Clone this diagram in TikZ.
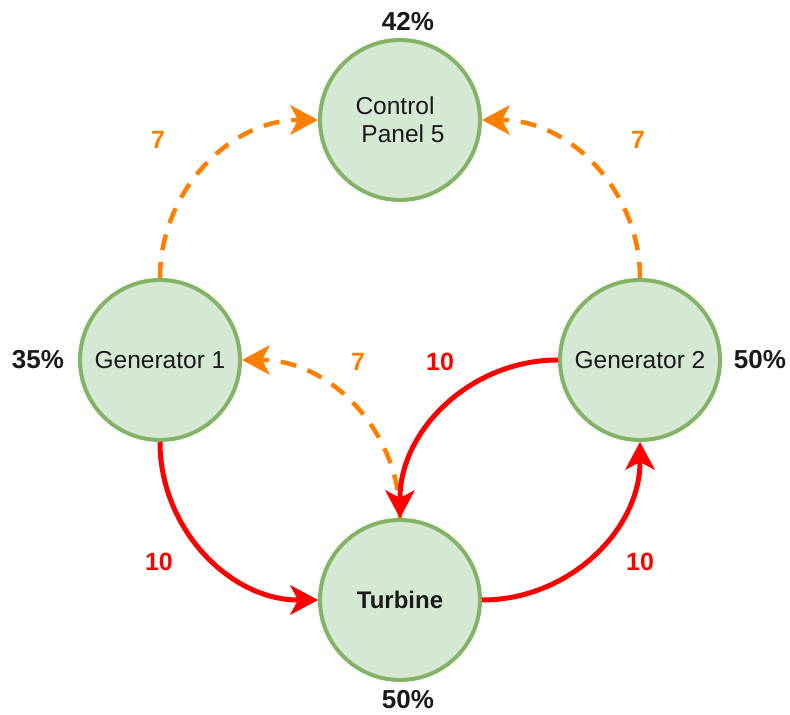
\documentclass[tikz,border=0pt]{standalone}
\usepackage{fontspec}
\setmainfont{Liberation Sans}
\usetikzlibrary{arrows.meta}

\definecolor{nodefill}{HTML}{D5E8D4}
\definecolor{nodeedge}{HTML}{82B366}
\definecolor{flowred}{HTML}{FF0000}
\definecolor{floworange}{HTML}{FF8000}
\definecolor{inktext}{HTML}{1A1A1A}

\tikzset{
  unit/.style={circle, draw=nodeedge, fill=nodefill, line width=4pt,
    minimum size=160pt, inner sep=0pt, align=center, text=inktext,
    font=\fontsize{24.5}{28}\selectfont},
  pct/.style={font=\fontsize{26}{30}\selectfont\bfseries, text=inktext, inner sep=0pt},
  tipshape/.style={-{Stealth[length=28pt, width=30pt, inset=8pt, line width=0.5pt]}},
  hot/.style={draw=flowred, line width=5pt, tipshape},
  warm/.style={draw=floworange, line width=4.5pt, dash pattern=on 16pt off 12pt, tipshape},
  hotlbl/.style={font=\fontsize{25}{30}\selectfont\bfseries, text=flowred, inner sep=0pt},
  warmlbl/.style={font=\fontsize{25}{30}\selectfont\bfseries, text=floworange, inner sep=0pt},
}

\begin{document}
\begin{tikzpicture}[x=1pt, y=1pt]
  \useasboundingbox (0,0) rectangle (790,715);

  % units
  \node[unit] (cp) at (400,595) {Control\hspace*{10pt}\\\hspace*{6pt}Panel 5};
  \node[unit] (g1) at (160,355) {Generator 1};
  \node[unit] (g2) at (640,355) {Generator 2};
  \node[unit, font=\fontsize{24}{28}\selectfont\bfseries] (tb) at (400,115) {Turbine};

  % load percentages
  \node[pct] (p1) at (408,693) {42\%};
  \node[pct] (p2) at (38,355) {35\%};
  \node[pct] (p3) at (760,355) {50\%};
  \node[pct] (p4) at (408,15) {50\%};

  % control links
  \draw[warm] (g1.north) to[out=90, in=180] (cp.west);
  \draw[warm] (g2.north) to[out=90, in=0] (cp.east);
  \draw[warm] (tb.north) to[out=90, in=0] (g1.east);

  % power flow
  \draw[hot] (g2.west) to[out=180, in=90] (tb.north);
  \draw[hot] (g1.south) to[out=-90, in=180] (tb.west);
  \draw[hot] (tb.east) to[out=0, in=-90] (g2.south);

  % link weights
  \node[warmlbl] (w1) at (158,575) {7};
  \node[warmlbl] (w2) at (638,575) {7};
  \node[warmlbl] (w3) at (358,353) {7};
  \node[hotlbl] (w4) at (440,353) {10};
  \node[hotlbl] (w5) at (159,153) {10};
  \node[hotlbl] (w6) at (640,153) {10};
\end{tikzpicture}
\end{document}
